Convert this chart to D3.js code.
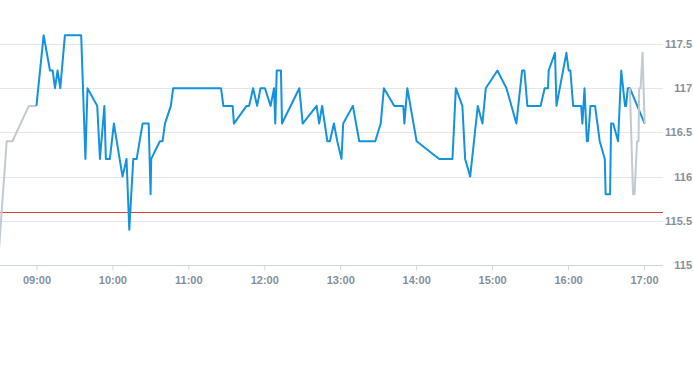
<!DOCTYPE html>
<html>
<head>
<meta charset="utf-8">
<script src="https://cdn.jsdelivr.net/npm/d3@7"></script>
<style>
    body { margin: 0; background: #fff; }
    svg { display: block; font-family: "Liberation Sans", Arial, sans-serif; }
    .grid line { stroke: #e6e6e6; stroke-width: 1; }
    .lbl { fill: #858f9b; font-size: 11px; font-weight: bold; }
</style>
</head>
<body>
<div id="CHART"></div>
<script>
// regular session
const blueTimes = ["09:00:00","09:05:40","09:10:40","09:12:50","09:14:40","09:16:40","09:18:50","09:22:30","09:35:20","09:38:40",
    "09:40:20","09:48:00","09:50:10","09:53:40","09:54:50","09:58:00","10:01:10","10:08:00","10:11:10","10:13:20",
    "10:16:30","10:19:10","10:23:50","10:28:40","10:30:10","10:30:40","10:37:30","10:39:40","10:41:30","10:46:10",
    "10:48:00","11:25:50","11:27:40","11:35:00","11:36:00","11:46:00","11:48:00","11:51:10","11:54:20","11:57:00",
    "12:00:30","12:05:00","12:07:40","12:08:40","12:09:50","12:13:10","12:14:00","12:27:40","12:30:20","12:41:20",
    "12:43:20","12:45:40","12:49:50","12:51:50","12:55:00","12:57:40","13:01:00","13:02:20","13:10:00","13:15:00",
    "13:27:40","13:32:00","13:34:30","13:42:40","13:49:50","13:50:40","13:53:00","14:00:20","14:18:10","14:28:40",
    "14:31:20","14:36:30","14:38:40","14:42:40","14:48:40","14:52:20","14:55:00","15:04:10","15:11:20","15:19:10",
    "15:23:40","15:25:30","15:27:50","15:38:20","15:41:30","15:44:10","15:44:40","15:49:40","15:50:50","15:58:40",
    "16:00:30","16:01:50","16:04:00","16:10:20","16:11:20","16:13:00","16:14:50","16:15:40","16:17:40","16:21:20",
    "16:25:00","16:29:00","16:29:40","16:33:10","16:34:00","16:35:40","16:39:30","16:42:00","16:45:00","16:45:50",
    "16:47:10","16:48:50","17:00:30"];
const blueValues = [116.8,117.6,117.2,117.2,117.0,117.2,117.0,117.6,117.6,116.2,
    117.0,116.8,116.2,116.8,116.2,116.2,116.6,116.0,116.2,115.4,
    116.2,116.2,116.6,116.6,115.8,116.2,116.4,116.4,116.6,116.8,
    117.0,117.0,116.8,116.8,116.6,116.8,116.8,117.0,116.8,117.0,
    117.0,116.8,117.0,116.6,117.2,117.2,116.6,117.0,116.6,116.8,
    116.6,116.8,116.4,116.4,116.6,116.4,116.2,116.6,116.8,116.4,
    116.4,116.6,117.0,116.8,116.8,116.6,117.0,116.4,116.2,116.2,
    117.0,116.8,116.2,116.0,116.8,116.6,117.0,117.2,117.0,116.6,
    117.2,117.2,116.8,116.8,117.0,117.0,117.2,117.4,116.8,117.4,
    117.2,117.2,116.8,116.8,116.6,117.0,116.4,116.4,116.8,116.8,
    116.4,116.2,115.8,115.8,116.6,116.6,116.4,117.2,116.8,116.8,
    117.0,117.0,116.6];

// extended hours
const preTimes = ["08:30:00","08:36:30","08:41:00","08:54:00","09:00:00"];
const preValues = [115.1,116.4,116.4,116.8,116.8];
const postTimes = ["16:48:50","16:51:20","16:52:30","16:54:30","16:55:40","16:56:10","16:57:20","16:58:50","17:00:30"];
const postValues = [117.0,115.8,115.8,116.4,116.4,117.0,117.0,117.4,116.6];

const refLine = 115.6;
const yTicks = [115, 115.5, 116, 116.5, 117, 117.5];
const xTickHours = ["09:00","10:00","11:00","12:00","13:00","14:00","15:00","16:00","17:00"];

const width = 693, height = 365,
    plotRight = 663, plotBottom = 265;

const parse = d3.timeParse("%H:%M:%S"),
    parseHM = d3.timeParse("%H:%M");

const x = d3.scaleTime()
    .domain([parse("08:31:12"), parse("17:15:00")])
    .range([0, plotRight]);

const y = d3.scaleLinear()
    .domain([115, 117.5])
    .range([plotBottom, 44]);

const svg = d3.select("#CHART").append("svg")
    .attr("width", width)
    .attr("height", height);

svg.append("defs").append("clipPath").attr("id", "clip")
    .append("rect").attr("x", 0).attr("y", 0).attr("width", plotRight).attr("height", plotBottom);

// horizontal grid
svg.append("g").attr("class", "grid")
    .selectAll("line")
    .data(yTicks.filter(d => d !== 115))
    .enter().append("line")
    .attr("x1", 0).attr("x2", plotRight)
    .attr("y1", d => Math.round(y(d)) + 0.5).attr("y2", d => Math.round(y(d)) + 0.5);

// y labels on the right
svg.append("g")
    .selectAll("text")
    .data(yTicks)
    .enter().append("text")
    .attr("class", "lbl")
    .attr("x", 692)
    .attr("y", d => y(d) + 4)
    .attr("text-anchor", "end")
    .text(d => d3.format("")(d));

// x axis
const xAxis = d3.axisBottom(x)
    .tickValues(xTickHours.map(parseHM))
    .tickFormat(d3.timeFormat("%H:%M"))
    .tickSize(5)
    .tickPadding(6);

const gx = svg.append("g")
    .attr("transform", "translate(0," + (plotBottom + 0.5) + ")")
    .call(xAxis);
gx.select(".domain").attr("stroke", "#ccd6eb").attr("d", "M0,0H" + plotRight);
gx.selectAll(".tick line").attr("stroke", "#ccd6eb");
gx.selectAll(".tick text").attr("class", "lbl").attr("fill", null)
    .style("font-family", "Liberation Sans, Arial, sans-serif");

// reference line
svg.append("line")
    .attr("x1", 0).attr("x2", plotRight)
    .attr("y1", Math.round(y(refLine)) + 0.5).attr("y2", Math.round(y(refLine)) + 0.5)
    .attr("stroke", "#d9413c")
    .attr("stroke-width", 1);

const line = d3.line()
    .x(d => x(d[0]))
    .y(d => y(d[1]));

const plot = svg.append("g").attr("clip-path", "url(#clip)");

function series(times, values, color) {
    plot.append("path")
        .datum(times.map((t, i) => [parse(t), values[i]]))
        .attr("fill", "none")
        .attr("stroke", color)
        .attr("stroke-width", 2)
        .attr("stroke-linejoin", "round")
        .attr("d", line);
}

series(preTimes, preValues, "#c2cad1");
series(blueTimes, blueValues, "#1592dd");
series(postTimes, postValues, "#c2cad1");
</script>
</body>
</html>
